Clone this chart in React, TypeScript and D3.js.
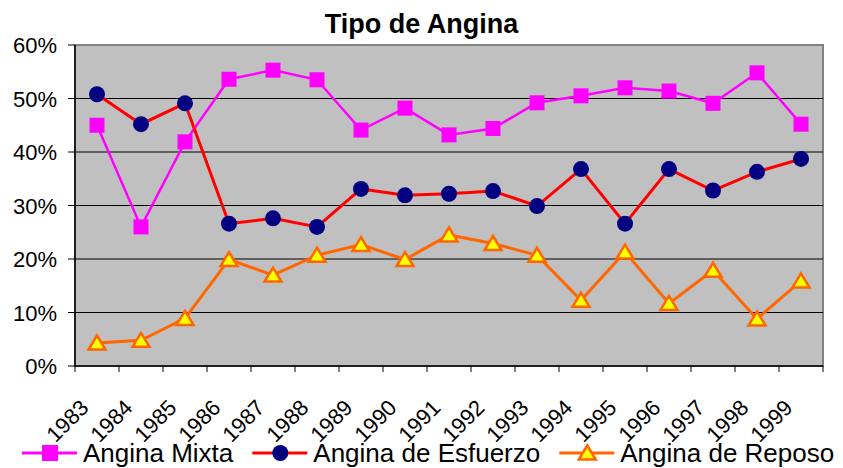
import { useRef, useEffect } from "react";
import * as d3 from "d3";

// años (categorías)
const years = [
  "1983", "1984", "1985", "1986", "1987", "1988", "1989", "1990", "1991",
  "1992", "1993", "1994", "1995", "1996", "1997", "1998", "1999",
];

// porcentajes
const anginaMixta = [
  45.0, 26.0, 41.9, 53.6, 55.3, 53.5, 44.1, 48.2, 43.2, 44.4, 49.2, 50.5, 52.0,
  51.4, 49.1, 54.8, 45.2,
];
const anginaEsfuerzo = [
  50.8, 45.2, 49.1, 26.6, 27.6, 26.0, 33.1, 31.9, 32.2, 32.7, 29.9, 36.8, 26.6,
  36.8, 32.8, 36.3, 38.7,
];
const anginaReposo = [
  4.3, 4.8, 8.9, 19.9, 17.0, 20.7, 22.7, 19.9, 24.5, 22.9, 20.7, 12.3, 21.3,
  11.7, 17.9, 8.8, 15.9,
];

const yTicks = [0, 10, 20, 30, 40, 50, 60];

const seriesNames = ["Angina Mixta", "Angina de Esfuerzo", "Angina de Reposo"];

const W = 843;
const H = 468;
const FONT = "'Liberation Sans', Arial, sans-serif";

const App = () => {
  const ref = useRef<SVGSVGElement | null>(null);

  useEffect(() => {
    document.body.style.margin = "0";
    const svg = d3.select(ref.current);
    svg.selectAll("*").remove();

    const left = 75;
    const right = 823;
    const top = 45;
    const bottom = 366;

    const x = d3.scaleBand<string>().domain(years).range([left, right]);
    const y = d3.scaleLinear().domain([0, 60]).range([bottom, top]);
    const cx = (i: number) => (x(years[i]) as number) + x.bandwidth() / 2;

    svg.append("rect").attr("width", W).attr("height", H).attr("fill", "#fff");

    // título
    svg
      .append("text")
      .attr("x", W / 2)
      .attr("y", 33)
      .attr("text-anchor", "middle")
      .attr("font-family", FONT)
      .attr("font-weight", "bold")
      .attr("font-size", 27)
      .text("Tipo de Angina");

    // área del gráfico
    svg
      .append("rect")
      .attr("x", left)
      .attr("y", top)
      .attr("width", right - left)
      .attr("height", bottom - top)
      .attr("fill", "#C0C0C0")
      .attr("stroke", "#808080")
      .attr("stroke-width", 2);

    // líneas de división
    svg
      .selectAll(".grid")
      .data(yTicks.filter((t) => t > 0 && t < 60))
      .enter()
      .append("line")
      .attr("x1", left)
      .attr("x2", right)
      .attr("y1", (d) => y(d))
      .attr("y2", (d) => y(d))
      .attr("stroke", "#000")
      .attr("stroke-width", 1);

    // eje Y
    svg
      .append("line")
      .attr("x1", left)
      .attr("x2", left)
      .attr("y1", top)
      .attr("y2", bottom)
      .attr("stroke", "#000")
      .attr("stroke-width", 1.5);
    svg
      .selectAll(".ytick")
      .data(yTicks)
      .enter()
      .append("line")
      .attr("x1", left - 7)
      .attr("x2", left)
      .attr("y1", (d) => y(d))
      .attr("y2", (d) => y(d))
      .attr("stroke", "#000");
    svg
      .selectAll(".ylab")
      .data(yTicks)
      .enter()
      .append("text")
      .attr("x", left - 18)
      .attr("y", (d) => y(d) + 8)
      .attr("text-anchor", "end")
      .attr("font-family", FONT)
      .attr("font-size", 22)
      .text((d) => d + "%");

    // eje X
    svg
      .append("line")
      .attr("x1", left)
      .attr("x2", right)
      .attr("y1", bottom)
      .attr("y2", bottom)
      .attr("stroke", "#000")
      .attr("stroke-width", 1.5);
    const edges = years.map((d) => x(d) as number).concat([right]);
    svg
      .selectAll(".xtick")
      .data(edges)
      .enter()
      .append("line")
      .attr("x1", (d) => d)
      .attr("x2", (d) => d)
      .attr("y1", bottom)
      .attr("y2", bottom + 6)
      .attr("stroke", "#000");
    svg
      .selectAll(".xlab")
      .data(years)
      .enter()
      .append("text")
      .attr(
        "transform",
        (d, i) => `translate(${cx(i) - 7},${bottom + 43}) rotate(-45)`
      )
      .attr("text-anchor", "end")
      .attr("font-family", FONT)
      .attr("font-size", 22)
      .text((d) => d);

    const line = d3
      .line<number>()
      .x((d, i) => cx(i))
      .y((d) => y(d));

    const triangle = "M0,-7.5L8.5,6.5L-8.5,6.5Z";

    // Angina Mixta
    svg
      .append("path")
      .attr("d", line(anginaMixta))
      .attr("fill", "none")
      .attr("stroke", "#FF00FF")
      .attr("stroke-width", 2.5);
    svg
      .selectAll(".sq")
      .data(anginaMixta)
      .enter()
      .append("rect")
      .attr("x", (d, i) => cx(i) - 7.5)
      .attr("y", (d) => y(d) - 7.5)
      .attr("width", 15)
      .attr("height", 15)
      .attr("fill", "#FF00FF");

    // Angina de Esfuerzo
    svg
      .append("path")
      .attr("d", line(anginaEsfuerzo))
      .attr("fill", "none")
      .attr("stroke", "#FF0000")
      .attr("stroke-width", 3);
    svg
      .selectAll(".ci")
      .data(anginaEsfuerzo)
      .enter()
      .append("circle")
      .attr("cx", (d, i) => cx(i))
      .attr("cy", (d) => y(d))
      .attr("r", 8)
      .attr("fill", "#000080");

    // Angina de Reposo
    svg
      .append("path")
      .attr("d", line(anginaReposo))
      .attr("fill", "none")
      .attr("stroke", "#FF6600")
      .attr("stroke-width", 3);
    svg
      .selectAll(".tri")
      .data(anginaReposo)
      .enter()
      .append("path")
      .attr("transform", (d, i) => `translate(${cx(i)},${y(d)})`)
      .attr("d", triangle)
      .attr("fill", "#FFFF00")
      .attr("stroke", "#FF6600")
      .attr("stroke-width", 2.5)
      .attr("stroke-linejoin", "miter");

    // leyenda
    const lineColors = ["#FF00FF", "#FF0000", "#FF6600"];
    const legendY = 453;
    let lx = 22;
    seriesNames.forEach((name, k) => {
      const g = svg.append("g");
      g.append("line")
        .attr("x1", lx)
        .attr("x2", lx + 55)
        .attr("y1", legendY)
        .attr("y2", legendY)
        .attr("stroke", lineColors[k])
        .attr("stroke-width", 3);
      const mx = lx + 28;
      if (k === 0) {
        g.append("rect")
          .attr("x", mx - 8)
          .attr("y", legendY - 8)
          .attr("width", 16)
          .attr("height", 16)
          .attr("fill", "#FF00FF");
      } else if (k === 1) {
        g.append("circle")
          .attr("cx", mx)
          .attr("cy", legendY)
          .attr("r", 8)
          .attr("fill", "#000080");
      } else {
        g.append("path")
          .attr("transform", `translate(${mx},${legendY})`)
          .attr("d", triangle)
          .attr("fill", "#FFFF00")
          .attr("stroke", "#FF6600")
          .attr("stroke-width", 2.5);
      }
      const t = g
        .append("text")
        .attr("x", lx + 61)
        .attr("y", legendY + 9)
        .attr("font-family", FONT)
        .attr("font-size", 26)
        .text(name);
      const tw = (t.node() as SVGTextElement).getComputedTextLength();
      lx = lx + 61 + tw + 19;
    });
  }, []);

  return <svg ref={ref} width={W} height={H} style={{ display: "block" }} />;
};

export default App;
